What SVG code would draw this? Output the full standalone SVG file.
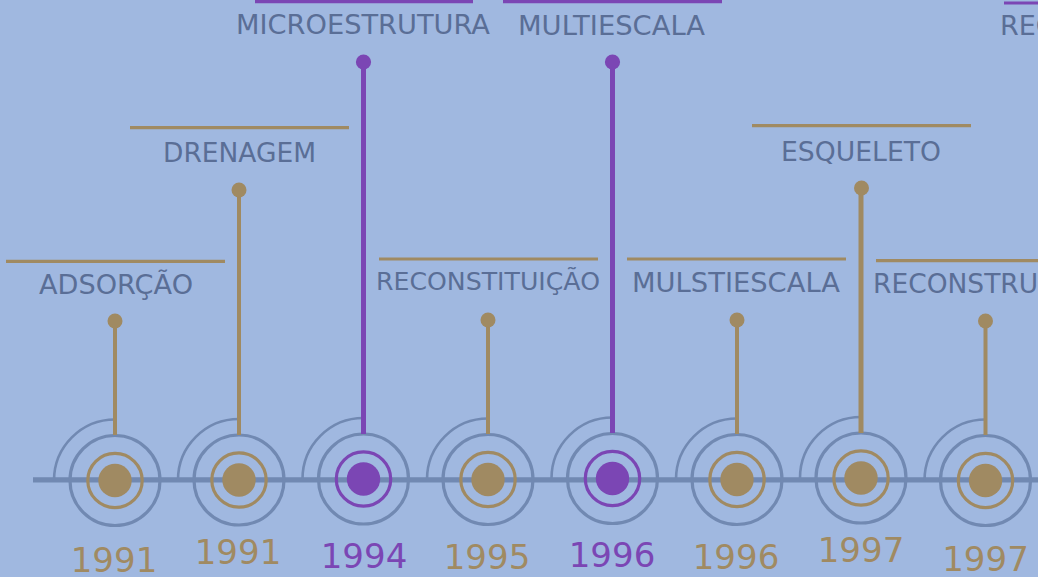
<svg xmlns="http://www.w3.org/2000/svg" width="1038" height="577" viewBox="0 0 1038 577">
<style>
.ring{fill:none;stroke:#7189b2;stroke-width:3.2}
.arc{fill:none;stroke:#7189b2;stroke-width:2.6}
.g{stroke:#a08a62}
.p{stroke:#7b46b4}
.gf{fill:#a08a62}
.pf{fill:#7b46b4}
.inner{fill:none;stroke-width:3.2}
.lbl{font-family:"DejaVu Sans","Verdana",sans-serif;fill:#5a6e96;text-anchor:middle}
.yr{font-family:"DejaVu Sans","Verdana",sans-serif;font-size:34px;text-anchor:middle}
.hl{stroke-width:3.2}
</style>
<rect width="1038" height="577" fill="#a0b8e0"/>
<g id="connectors">
<line x1="33" y1="479.8" x2="1038" y2="479.8" stroke="#7189b2" stroke-width="5.2"/>
</g>
<g id="node-1991a">
<path class="arc" d="M54 480.5 A61 61 0 0 1 115 419.5"/>
<circle class="ring" cx="115" cy="480.5" r="45"/>
<circle class="inner g" cx="115" cy="480.5" r="27.2"/>
<circle class="gf" cx="115" cy="480.5" r="16.7"/>
<line class="g" x1="115" y1="321" x2="115" y2="435" stroke-width="4"/>
<circle class="gf" cx="115" cy="321" r="7.5"/>
<line class="g hl" x1="6" y1="261.3" x2="225" y2="261.3"/>
<text class="lbl" x="116" y="294" font-size="26.8" textLength="154" lengthAdjust="spacingAndGlyphs">ADSORÇÃO</text>
<text class="yr gf" x="114" y="572">1991</text>
</g>
<g id="node-1991b">
<path class="arc" d="M178 480 A61 61 0 0 1 239 419"/>
<circle class="ring" cx="239" cy="480" r="45"/>
<circle class="inner g" cx="239" cy="480" r="27.2"/>
<circle class="gf" cx="239" cy="480" r="16.7"/>
<line class="g" x1="239" y1="190" x2="239" y2="435" stroke-width="4"/>
<circle class="gf" cx="239" cy="190" r="7.5"/>
<line class="g hl" x1="130" y1="127.7" x2="349" y2="127.7"/>
<text class="lbl" x="239.5" y="162.3" font-size="26.5" textLength="153" lengthAdjust="spacingAndGlyphs">DRENAGEM</text>
<text class="yr gf" x="238" y="564">1991</text>
</g>
<g id="node-1994">
<path class="arc" d="M302.5 479 A61 61 0 0 1 363.5 418"/>
<circle class="ring" cx="363.5" cy="479" r="45"/>
<circle class="inner p" cx="363.5" cy="479" r="27.2"/>
<circle class="pf" cx="363.5" cy="479" r="16.7"/>
<line class="p" x1="363.5" y1="62" x2="363.5" y2="434" stroke-width="5"/>
<circle class="pf" cx="363.5" cy="62" r="7.6"/>
<line class="p hl" x1="255" y1="1.6" x2="473" y2="1.6"/>
<text class="lbl" x="363" y="34" font-size="27" textLength="254" lengthAdjust="spacingAndGlyphs">MICROESTRUTURA</text>
<text class="yr pf" x="364" y="568">1994</text>
</g>
<g id="node-1995">
<path class="arc" d="M427 479.5 A61 61 0 0 1 488 418.5"/>
<circle class="ring" cx="488" cy="479.5" r="45"/>
<circle class="inner g" cx="488" cy="479.5" r="27.2"/>
<circle class="gf" cx="488" cy="479.5" r="16.7"/>
<line class="g" x1="488" y1="320" x2="488" y2="434" stroke-width="4"/>
<circle class="gf" cx="488" cy="320" r="7.5"/>
<line class="g hl" x1="379" y1="259" x2="598" y2="259"/>
<text class="lbl" x="488" y="290" font-size="25" textLength="224" lengthAdjust="spacingAndGlyphs">RECONSTITUIÇÃO</text>
<text class="yr gf" x="487" y="569">1995</text>
</g>
<g id="node-1996a">
<path class="arc" d="M551.5 478.5 A61 61 0 0 1 612.5 417.5"/>
<circle class="ring" cx="612.5" cy="478.5" r="45"/>
<circle class="inner p" cx="612.5" cy="478.5" r="27.2"/>
<circle class="pf" cx="612.5" cy="478.5" r="16.7"/>
<line class="p" x1="612.5" y1="62" x2="612.5" y2="433" stroke-width="5"/>
<circle class="pf" cx="612.5" cy="62" r="7.6"/>
<line class="p hl" x1="503" y1="1.6" x2="722" y2="1.6"/>
<text class="lbl" x="611.5" y="34.5" font-size="27" textLength="187" lengthAdjust="spacingAndGlyphs">MULTIESCALA</text>
<text class="yr pf" x="612" y="567">1996</text>
</g>
<g id="node-1996b">
<path class="arc" d="M676 479.5 A61 61 0 0 1 737 418.5"/>
<circle class="ring" cx="737" cy="479.5" r="45"/>
<circle class="inner g" cx="737" cy="479.5" r="27.2"/>
<circle class="gf" cx="737" cy="479.5" r="16.7"/>
<line class="g" x1="737" y1="320" x2="737" y2="434" stroke-width="4"/>
<circle class="gf" cx="737" cy="320" r="7.5"/>
<line class="g hl" x1="627" y1="259" x2="846" y2="259"/>
<text class="lbl" x="736" y="292" font-size="27.2" textLength="208" lengthAdjust="spacingAndGlyphs">MULSTIESCALA</text>
<text class="yr gf" x="736" y="569">1996</text>
</g>
<g id="node-1997a">
<path class="arc" d="M800 478 A61 61 0 0 1 861 417"/>
<circle class="ring" cx="861" cy="478" r="45"/>
<circle class="inner g" cx="861" cy="478" r="27.2"/>
<circle class="gf" cx="861" cy="478" r="16.7"/>
<line class="g" x1="861" y1="188" x2="861" y2="433" stroke-width="5"/>
<circle class="gf" cx="861.5" cy="188" r="7.5"/>
<line class="g hl" x1="752" y1="125.7" x2="971" y2="125.7"/>
<text class="lbl" x="861" y="161" font-size="26.7" textLength="160" lengthAdjust="spacingAndGlyphs">ESQUELETO</text>
<text class="yr gf" x="861" y="562">1997</text>
</g>
<g id="node-1997b">
<path class="arc" d="M924.5 480.5 A61 61 0 0 1 985.5 419.5"/>
<circle class="ring" cx="985.5" cy="480.5" r="45"/>
<circle class="inner g" cx="985.5" cy="480.5" r="27.2"/>
<circle class="gf" cx="985.5" cy="480.5" r="16.7"/>
<line class="g" x1="985.5" y1="321" x2="985.5" y2="435" stroke-width="4"/>
<circle class="gf" cx="985.5" cy="321" r="7.5"/>
<line class="g hl" x1="876" y1="260.7" x2="1095" y2="260.7"/>
<text class="lbl" x="873" y="293" font-size="26.5" style="text-anchor:start">RECONSTRU</text>
<text class="yr gf" x="985.5" y="571">1997</text>
</g>
<g id="node-offscreen">
<line class="p hl" x1="1004" y1="3" x2="1223" y2="3"/>
<text class="lbl" x="1000" y="35" font-size="27" style="text-anchor:start">REC</text>
</g>
</svg>
